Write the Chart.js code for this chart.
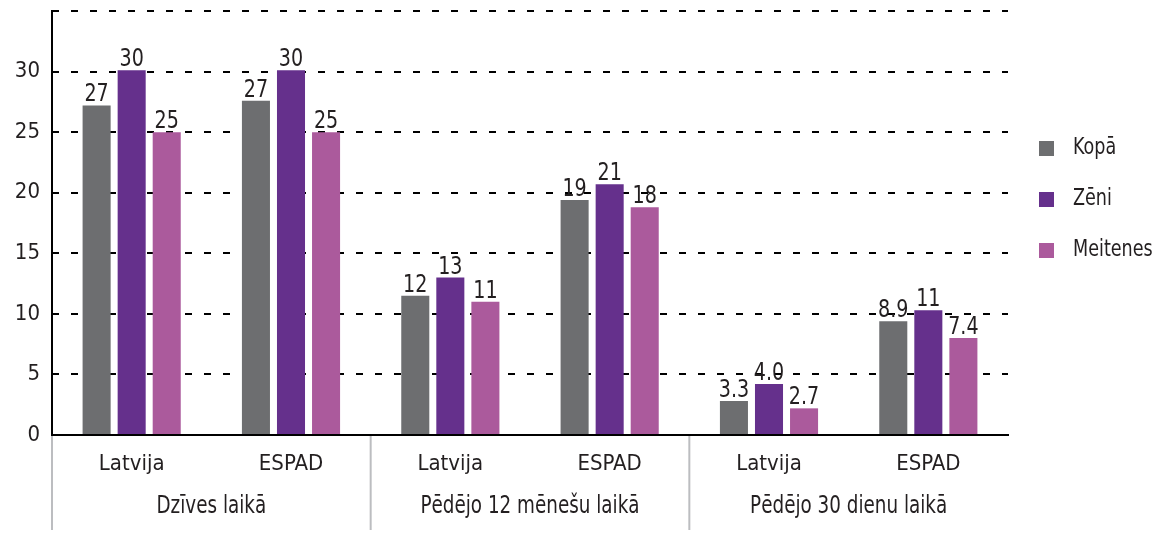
<!DOCTYPE html>
<html>
<head>
<meta charset="utf-8">
<script src="https://cdn.jsdelivr.net/npm/chart.js@4.4.1/dist/chart.umd.min.js"></script>
<style>
    html, body { margin: 0; padding: 0; background: #fff; }
    #wrap { width: 1158px; height: 533px; position: relative; }
</style>
</head>
<body>
<div id="wrap"><canvas id="bar_chart"></canvas></div>
<script>
// 数据
var categories = ['Latvija', 'ESPAD', 'Latvija', 'ESPAD', 'Latvija', 'ESPAD'];
var groups = ['Dzīves laikā', 'Pēdējo 12 mēnešu laikā', 'Pēdējo 30 dienu laikā'];
var seriesNames = ['Kopā', 'Zēni', 'Meitenes'];

var kopa = [27.2, 27.6, 11.5, 19.4, 2.8, 9.4];
var zeni = [30.1, 30.1, 13.0, 20.7, 4.2, 10.3];
var meitenes = [25.0, 25.0, 11.0, 18.8, 2.2, 8.0];

// 柱上标签文字
var kopaLbl = ['27', '27', '12', '19', '3.3', '8.9'];
var zeniLbl = ['30', '30', '13', '21', '4.0', '11'];
var meitLbl = ['25', '25', '11', '18', '2.7', '7.4'];

var yTicks = [0, 5, 10, 15, 20, 25, 30];

(function () {
    var FONT = "'Liberation Sans Narrow', 'DejaVu Sans Condensed', 'Roboto Condensed', 'Noto Sans', sans-serif";
    var SQUEEZE = 0.85;
    var colors = ['#6d6e70', '#65308c', '#ab5a9c'];
    var labelSets = [kopaLbl, zeniLbl, meitLbl];

    // 窄体文字 (横向压缩)
    function narrowText(ctx, text, x, y) {
        ctx.save();
        ctx.translate(x, y);
        ctx.scale(SQUEEZE, 1);
        ctx.fillText(text, 0, 0);
        ctx.restore();
    }

    // 柱上数值
    var valueLabels = {
        id: 'valueLabels',
        afterDatasetsDraw: function (chart) {
            var ctx = chart.ctx;
            ctx.save();
            ctx.font = '25px ' + FONT;
            ctx.fillStyle = '#231f20';
            ctx.textAlign = 'center';
            ctx.textBaseline = 'alphabetic';
            chart.data.datasets.forEach(function (ds, i) {
                chart.getDatasetMeta(i).data.forEach(function (bar, j) {
                    narrowText(ctx, labelSets[i][j], bar.x, bar.y - 4);
                });
            });
            ctx.restore();
        }
    };

    // 第二层分类 + 分隔线
    var groupAxis = {
        id: 'groupAxis',
        afterDraw: function (chart) {
            var ctx = chart.ctx;
            var x = chart.scales.x;
            var area = chart.chartArea;
            ctx.save();
            ctx.strokeStyle = '#bcbdc0';
            ctx.lineWidth = 2;
            var edges = [area.left];
            for (var g = 1; g < groups.length; g++) {
                edges.push((x.getPixelForValue(g * 2 - 1) + x.getPixelForValue(g * 2)) / 2);
            }
            edges.forEach(function (ex) {
                ctx.beginPath();
                ctx.moveTo(ex, area.bottom + 1);
                ctx.lineTo(ex, 530);
                ctx.stroke();
            });
            ctx.font = '24px ' + FONT;
            ctx.fillStyle = '#231f20';
            ctx.textAlign = 'center';
            ctx.textBaseline = 'middle';
            groups.forEach(function (name, g) {
                var cx = (x.getPixelForValue(g * 2) + x.getPixelForValue(g * 2 + 1)) / 2;
                narrowText(ctx, name, cx, 507);
            });
            ctx.restore();
        }
    };

    // 右侧图例
    var sideLegend = {
        id: 'sideLegend',
        afterDraw: function (chart) {
            var ctx = chart.ctx;
            ctx.save();
            ctx.font = '23px ' + FONT;
            ctx.textBaseline = 'middle';
            ctx.textAlign = 'left';
            chart.data.datasets.forEach(function (ds, i) {
                var y = 148 + i * 51;
                ctx.fillStyle = ds.backgroundColor;
                ctx.fillRect(1039, y - 7, 15, 15);
                ctx.fillStyle = '#231f20';
                narrowText(ctx, ds.label, 1073, y);
            });
            ctx.restore();
        }
    };

    var datasets = [kopa, zeni, meitenes].map(function (vals, i) {
        return {
            label: seriesNames[i],
            data: vals,
            backgroundColor: colors[i],
            categoryPercentage: 0.66,
            barPercentage: 0.8
        };
    });

    new Chart(document.getElementById('bar_chart').getContext('2d'), {
        type: 'bar',
        data: { labels: categories, datasets: datasets },
        plugins: [valueLabels, groupAxis, sideLegend],
        options: {
            responsive: true,
            maintainAspectRatio: false,
            animation: false,
            layout: { padding: { left: 0, right: 150, top: 11, bottom: 0 } },
            plugins: {
                legend: { display: false },
                tooltip: { enabled: false }
            },
            scales: {
                x: {
                    grid: { display: false, drawTicks: false },
                    border: { display: true, color: '#000', width: 2 },
                    ticks: {
                        padding: 16,
                        color: '#231f20',
                        font: { family: FONT, size: 22 }
                    },
                    afterFit: function (scale) { scale.height = 98; }
                },
                y: {
                    min: 0,
                    max: 35,
                    afterBuildTicks: function (scale) {
                        scale.ticks = yTicks.concat([35]).map(function (v) { return { value: v }; });
                    },
                    ticks: {
                        padding: 12,
                        color: '#231f20',
                        font: { family: FONT, size: 22 },
                        callback: function (v) { return v === 35 ? '' : v; }
                    },
                    grid: {
                        color: '#000',
                        lineWidth: 2,
                        drawTicks: false
                    },
                    border: { display: true, color: '#000', width: 2, dash: [7, 12], dashOffset: 1 },
                    afterFit: function (scale) {
                        scale.width = 52;
                        scale.paddingTop = 0;
                    }
                }
            }
        }
    });
}());
</script>
</body>
</html>
